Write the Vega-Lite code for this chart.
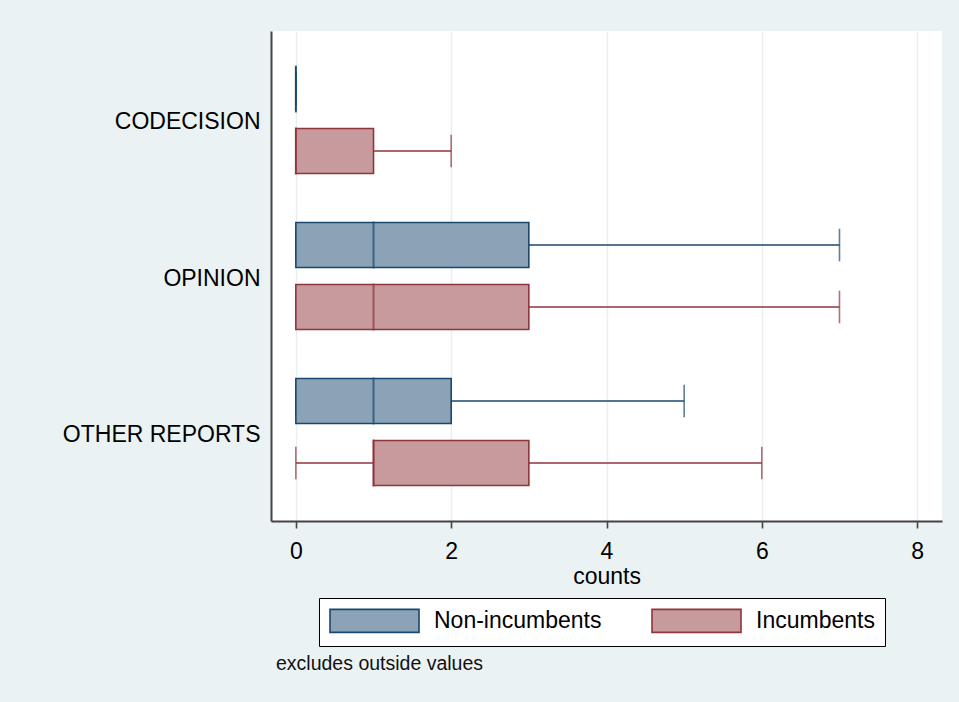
{
  "$schema": "https://vega.github.io/schema/vega-lite/v6.json",
  "autosize": "none",
  "width": 671,
  "height": 490,
  "padding": {"left": 271, "top": 31, "right": 17, "bottom": 181},
  "background": "#EAF2F3",
  "config": {
    "view": {"fill": "white", "stroke": null},
    "font": "Liberation Sans"
  },
  "title": {
    "text": "excludes outside values",
    "orient": "bottom",
    "anchor": "start",
    "frame": "group",
    "fontSize": 19.5,
    "fontWeight": "normal",
    "color": "#111111",
    "offset": 8,
    "dx": 5
  },
  "data": {
    "values": [
      {"category": "CODECISION", "group": "Non-incumbents", "lo": 0, "q1": 0, "med": 0, "q3": 0, "hi": 0},
      {"category": "CODECISION", "group": "Incumbents", "lo": 0, "q1": 0, "med": 0, "q3": 1, "hi": 2},
      {"category": "OPINION", "group": "Non-incumbents", "lo": 0, "q1": 0, "med": 1, "q3": 3, "hi": 7},
      {"category": "OPINION", "group": "Incumbents", "lo": 0, "q1": 0, "med": 1, "q3": 3, "hi": 7},
      {"category": "OTHER REPORTS", "group": "Non-incumbents", "lo": 0, "q1": 0, "med": 1, "q3": 2, "hi": 5},
      {"category": "OTHER REPORTS", "group": "Incumbents", "lo": 0, "q1": 1, "med": 1, "q3": 3, "hi": 6}
    ]
  },
  "encoding": {
    "y": {
      "field": "category",
      "type": "nominal",
      "sort": ["CODECISION", "OPINION", "OTHER REPORTS"],
      "scale": {"paddingInner": 0, "paddingOuter": 0.0705},
      "axis": {
        "title": null,
        "ticks": false,
        "tickSize": 0,
        "labelPadding": 11,
        "labelOffset": 2.5,
        "labelLimit": 400,
        "labelFontSize": 23,
        "labelColor": "#000000",
        "labelFont": "Liberation Sans",
        "domainColor": "#444444",
        "domainWidth": 2,
        "grid": false
      }
    },
    "yOffset": {
      "field": "group",
      "type": "nominal",
      "sort": ["Non-incumbents", "Incumbents"],
      "scale": {"paddingInner": 0, "paddingOuter": 0.258}
    },
    "stroke": {
      "field": "group",
      "type": "nominal",
      "sort": ["Non-incumbents", "Incumbents"],
      "scale": {"domain": ["Non-incumbents", "Incumbents"], "range": ["#1A476F", "#90353B"]},
      "legend": {
        "title": null,
        "orient": "none",
        "direction": "horizontal",
        "legendX": 48,
        "legendY": 567,
        "symbolType": "M-1,-1H6.74V1H-1Z",
        "symbolSize": 529,
        "symbolStrokeWidth": 1.6,
        "symbolOpacity": 1,
        "labelOffset": 80,
        "labelFontSize": 23,
        "labelFont": "Liberation Sans",
        "labelColor": "#000000",
        "labelLimit": 400,
        "columnPadding": 46,
        "padding": 10,
        "strokeColor": "#000000",
        "fillColor": "#FFFFFF"
      }
    }
  },
  "layer": [
    {
      "mark": {"type": "rule", "strokeWidth": 1.6},
      "encoding": {
        "x": {
          "field": "lo",
          "type": "quantitative",
          "title": "counts",
          "scale": {"domain": [-0.32, 8.32], "nice": false, "zero": false},
          "axis": {
            "values": [0, 2, 4, 6, 8],
            "format": "d",
            "tickSize": 7,
            "tickColor": "#444444",
            "tickWidth": 1.6,
            "labelPadding": 12,
            "labelFontSize": 23,
            "labelColor": "#000000",
            "labelFont": "Liberation Sans",
            "domainColor": "#444444",
            "domainWidth": 2,
            "grid": true,
            "gridColor": "#E8EFF1",
            "gridWidth": 1.5,
            "titleFontSize": 23,
            "titleFontWeight": "normal",
            "titleColor": "#000000",
            "titleFont": "Liberation Sans",
            "titlePadding": 2
          }
        },
        "x2": {"field": "hi"}
      }
    },
    {
      "mark": {"type": "tick", "filled": false, "thickness": 0.01, "size": 31, "strokeWidth": 1.6},
      "encoding": {
        "x": {"field": "hi", "type": "quantitative", "title": "counts"}
      }
    },
    {
      "mark": {"type": "tick", "filled": false, "thickness": 0.01, "size": 31, "strokeWidth": 1.6},
      "encoding": {
        "x": {"field": "lo", "type": "quantitative", "title": "counts"}
      }
    },
    {
      "mark": {"type": "bar", "height": 45, "strokeWidth": 1.6},
      "encoding": {
        "x": {"field": "q1", "type": "quantitative", "title": "counts"},
        "x2": {"field": "q3"},
        "fill": {
          "field": "group",
          "type": "nominal",
          "sort": ["Non-incumbents", "Incumbents"],
          "scale": {"domain": ["Non-incumbents", "Incumbents"], "range": ["#8CA3B7", "#C79A9D"]},
          "legend": {
            "title": null,
            "orient": "none",
            "direction": "horizontal",
            "legendX": 48,
            "legendY": 567,
            "symbolType": "M-1,-1H6.74V1H-1Z",
            "symbolSize": 529,
            "symbolStrokeWidth": 1.6,
            "symbolOpacity": 1,
            "labelOffset": 80,
            "labelFontSize": 23,
            "labelFont": "Liberation Sans",
            "labelColor": "#000000",
            "labelLimit": 400,
            "columnPadding": 46,
            "padding": 10,
            "strokeColor": "#000000",
            "fillColor": "#FFFFFF"
          }
        }
      }
    },
    {
      "mark": {"type": "tick", "filled": false, "thickness": 0.01, "size": 45, "strokeWidth": 2},
      "encoding": {
        "x": {"field": "med", "type": "quantitative", "title": "counts"}
      }
    }
  ]
}
